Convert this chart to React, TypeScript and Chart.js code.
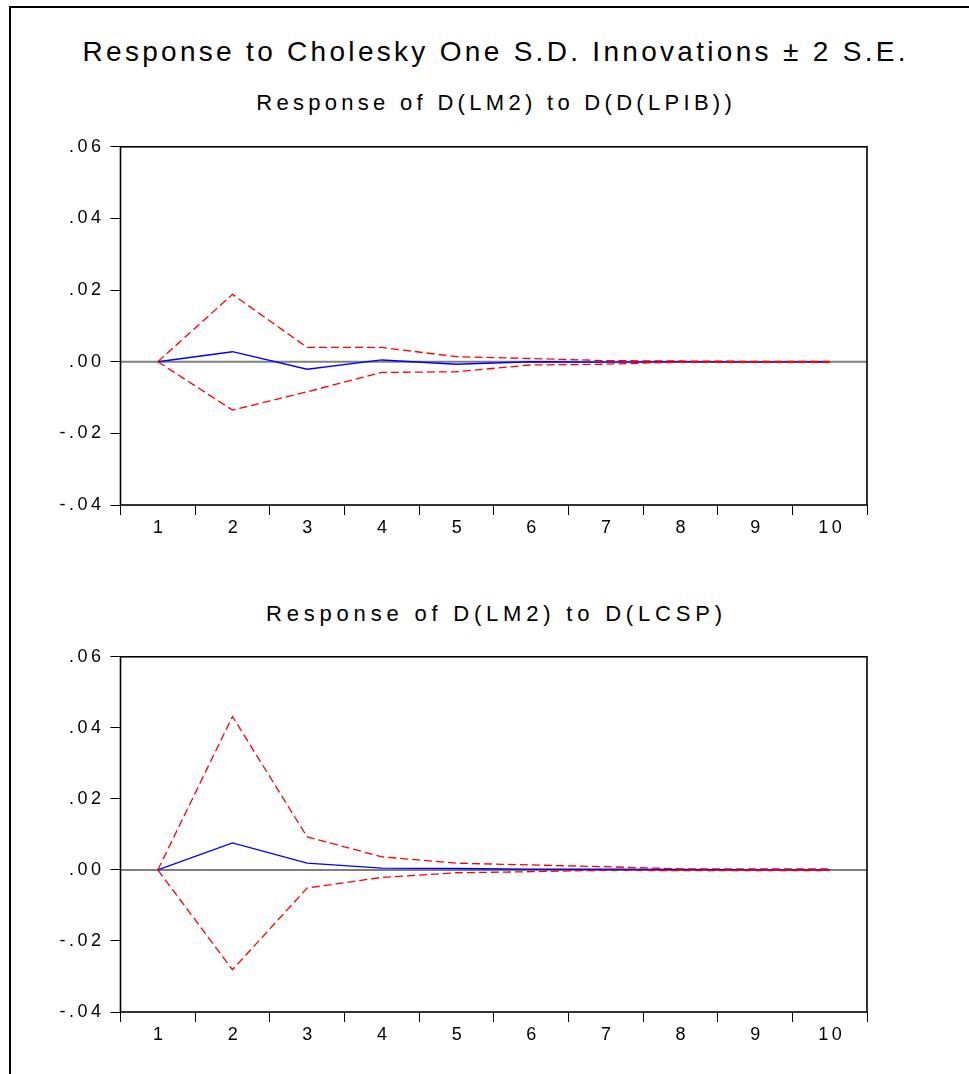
import React, { useEffect, useRef } from "react";
import { Chart, registerables } from "chart.js";

Chart.register(...registerables);

// ---- Data ----
const periods = ["1", "2", "3", "4", "5", "6", "7", "8", "9", "10"];
const yMin = -0.04;
const yMax = 0.06;
const yStep = 0.02;

const mainTitle = "Response to Cholesky One S.D. Innovations \u00B1 2 S.E.";
const title1 = "Response of D(LM2) to D(D(LPIB))";
const title2 = "Response of D(LM2) to D(LCSP)";

// Response of D(LM2) to D(D(LPIB))
const resp1 = [0, 0.0028, -0.0021, 0.0005, -0.0007, 0.0, -0.0001, 0.0, -0.0001, 0.0];
const upper1 = [0, 0.0188, 0.004, 0.004, 0.0014, 0.0009, 0.0003, 0.0002, 0.0001, 0.0001];
const lower1 = [0, -0.0135, -0.0084, -0.003, -0.0028, -0.0009, -0.0007, -0.0001, -0.0002, -0.0002];

// Response of D(LM2) to D(LCSP)
const resp2 = [0, 0.0076, 0.0019, 0.0005, 0.0004, 0.0002, 0.0002, 0.0001, 0.0, 0.0];
const upper2 = [0, 0.0432, 0.0093, 0.0037, 0.0019, 0.0014, 0.0009, 0.0003, 0.0003, 0.0003];
const lower2 = [0, -0.0281, -0.0051, -0.0021, -0.0008, -0.0005, -0.0001, -0.0002, -0.0002, -0.0002];

const FONT = "'Liberation Sans', Arial, sans-serif";
const TICK_SPACING = 3.5;

function fmt(v: number): string {
  const r = Math.round(v * 100) / 100;
  let s = r.toFixed(2);
  if (s === "-0.00") s = "0.00";
  return s.replace("0.", ".");
}

const framePlugin = {
  id: "frameZero",
  beforeDraw(chart: any) {
    (chart.ctx as any).letterSpacing = `${TICK_SPACING}px`;
  },
  beforeDatasetsDraw(chart: any) {
    const { ctx, chartArea, scales } = chart;
    const y0 = scales.y.getPixelForValue(0);
    ctx.save();
    (ctx as any).letterSpacing = "0px";
    ctx.strokeStyle = "#7f7f7f";
    ctx.lineWidth = 2;
    ctx.beginPath();
    ctx.moveTo(chartArea.left, y0);
    ctx.lineTo(chartArea.right, y0);
    ctx.stroke();
    ctx.restore();
  },
  afterDraw(chart: any) {
    const { ctx, chartArea } = chart;
    ctx.save();
    ctx.strokeStyle = "#000";
    ctx.lineWidth = 1.6;
    ctx.strokeRect(
      chartArea.left,
      chartArea.top,
      chartArea.right - chartArea.left,
      chartArea.bottom - chartArea.top
    );
    ctx.restore();
  },
};

function Panel(props: {
  resp: number[];
  upper: number[];
  lower: number[];
  top: number;
  height: number;
  padTop: number;
  xAxisH: number;
}) {
  const ref = useRef<HTMLCanvasElement | null>(null);
  useEffect(() => {
    if (!ref.current) return;
    const chart = new Chart(ref.current, {
      type: "line",
      data: {
        labels: periods,
        datasets: [
          {
            data: props.upper,
            borderColor: "#FF0000",
            borderWidth: 1.3,
            borderDash: [8, 4],
            pointRadius: 0,
            tension: 0,
            fill: false,
          },
          {
            data: props.lower,
            borderColor: "#FF0000",
            borderWidth: 1.3,
            borderDash: [8, 4],
            pointRadius: 0,
            tension: 0,
            fill: false,
          },
          {
            data: props.resp,
            borderColor: "#0000FF",
            borderWidth: 1.4,
            pointRadius: 0,
            tension: 0,
            fill: false,
          },
        ],
      },
      options: {
        animation: false,
        responsive: false,
        maintainAspectRatio: false,
        layout: { padding: { top: props.padTop, right: 102, left: 0, bottom: 0 } },
        plugins: {
          legend: { display: false },
          tooltip: { enabled: false },
          title: { display: false },
        },
        scales: {
          x: {
            type: "category",
            offset: true,
            grid: {
              display: true,
              offset: true,
              drawOnChartArea: false,
              drawTicks: true,
              tickLength: 10,
              tickColor: "#000",
              lineWidth: 1,
            },
            border: { display: false },
            ticks: {
              color: "#000",
              font: { family: FONT, size: 18 },
              padding: 2,
              labelOffset: 2,
              maxRotation: 0,
              autoSkip: false,
            },
            afterFit(scale: any) {
              scale.height = props.xAxisH;
            },
          },
          y: {
            min: yMin,
            max: yMax,
            grid: {
              display: true,
              drawOnChartArea: false,
              drawTicks: true,
              tickLength: 10,
              tickColor: "#000",
              lineWidth: 1,
            },
            border: { display: false },
            ticks: {
              stepSize: yStep,
              color: "#000",
              font: { family: FONT, size: 18 },
              padding: 6,
              callback: (v: any) => fmt(Number(v)),
            },
            afterFit(scale: any) {
              scale.width = 120.5;
            },
          },
        },
      },
      plugins: [framePlugin],
    });
    return () => chart.destroy();
  }, []);
  return (
    <canvas
      ref={ref}
      width={969}
      height={props.height}
      style={{ position: "absolute", left: 0, top: props.top, width: 969, height: props.height }}
    />
  );
}

function Title(props: { text: string; top: number; size: number; spacing: number }) {
  return (
    <div
      style={{
        position: "absolute",
        left: 0,
        top: props.top,
        width: 988,
        textAlign: "center",
        fontFamily: FONT,
        fontSize: props.size,
        lineHeight: `${props.size}px`,
        letterSpacing: props.spacing,
        paddingLeft: props.spacing,
        boxSizing: "border-box",
        color: "#000",
        whiteSpace: "nowrap",
      }}
    >
      {props.text}
    </div>
  );
}

export default function App() {
  return (
    <div
      style={{
        position: "absolute",
        left: 0,
        top: 0,
        width: 969,
        height: 1074,
        background: "#fff",
        overflow: "hidden",
      }}
    >
      <div
        style={{
          position: "absolute",
          left: 9,
          top: 6,
          width: 1000,
          height: 1100,
          borderLeft: "2px solid #000",
          borderTop: "2px solid #000",
        }}
      />
      <Title text={mainTitle} top={38} size={28} spacing={3.3} />
      <Title text={title1} top={92} size={22} spacing={4.3} />
      <Title text={title2} top={603} size={22} spacing={4.8} />
      <Panel resp={resp1} upper={upper1} lower={lower1} top={130} height={420} padTop={16.5} xAxisH={45} />
      <Panel resp={resp2} upper={upper2} lower={lower2} top={640} height={420} padTop={15} xAxisH={48} />
    </div>
  );
}
